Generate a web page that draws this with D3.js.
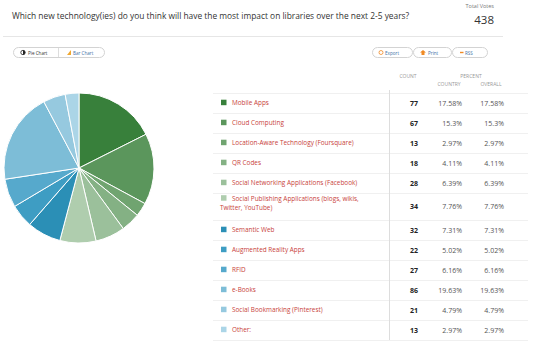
<!DOCTYPE html>
<html>
<head>
<meta charset="utf-8">
<script src="https://cdnjs.cloudflare.com/ajax/libs/d3/7.8.5/d3.min.js"></script>
<style>
  body { margin: 0; background: #fff; }
  svg { display: block; font-family: "Open Sans", sans-serif; }
</style>
</head>
<body>
<div id="chart"></div>
<script>
    var question = "Which new technology(ies) do you think will have the most impact on libraries over the next 2-5 years?";
    var totalVotes = 438;

    var answers = ["Mobile Apps", "Cloud Computing", "Location-Aware Technology (Foursquare)", "QR Codes",
        "Social Networking Applications (Facebook)", "Social Publishing Applications (blogs, wikis, Twitter, YouTube)",
        "Semantic Web", "Augmented Reality Apps", "RFID", "e-Books", "Social Bookmarking (Pinterest)", "Other:"];
    var counts = [77, 67, 13, 18, 28, 34, 32, 22, 27, 86, 21, 13];
    var pctCountry = ["17.58%", "15.3%", "2.97%", "4.11%", "6.39%", "7.76%", "7.31%", "5.02%", "6.16%", "19.63%", "4.79%", "2.97%"];
    var pctOverall = ["17.58%", "15.3%", "2.97%", "4.11%", "6.39%", "7.76%", "7.31%", "5.02%", "6.16%", "19.63%", "4.79%", "2.97%"];
    var sliceColors = ["#38803b", "#5b965c", "#70a470", "#84b184", "#9bc09b", "#afcdae",
        "#2b8fb6", "#3e9dc3", "#56a9cc", "#7dbdd7", "#96c9df", "#abd5e7"];

    var W = 550, H = 341;

    var svg = d3.select("#chart")
        .append("svg")
        .attr("width", W)
        .attr("height", H);

    //header
    svg.append("text")
        .text(question)
        .attr("x", 12)
        .attr("y", 18.5)
        .attr("font-size", 8.4)
        .attr("fill", "#333");

    svg.append("text")
        .text("Total Votes")
        .attr("x", 494)
        .attr("y", 8)
        .attr("text-anchor", "end")
        .attr("font-size", 5.5)
        .attr("fill", "#777");

    svg.append("text")
        .text(totalVotes)
        .attr("x", 494)
        .attr("y", 24)
        .attr("text-anchor", "end")
        .attr("font-size", 11.5)
        .attr("fill", "#333");

    svg.append("rect")
        .attr("x", 3).attr("y", 36)
        .attr("width", 500).attr("height", 1)
        .attr("fill", "#e6e6e6");

    //buttons
    function pill(x, w) {
        svg.append("rect")
            .attr("x", x + 0.5).attr("y", 47.5)
            .attr("width", w).attr("height", 10)
            .attr("rx", 5)
            .attr("fill", "#fff")
            .attr("stroke", "#d3d3d3");
    }
    function btnText(t, x) {
        svg.append("text")
            .text(t)
            .attr("x", x).attr("y", 54.5)
            .attr("font-size", 4.6)
            .attr("fill", "#3d6fa6");
    }

    pill(13, 91);
    svg.append("rect").attr("x", 58).attr("y", 48).attr("width", 1).attr("height", 9).attr("fill", "#ddd");
    svg.append("circle").attr("cx", 23).attr("cy", 52.5).attr("r", 2.2).attr("fill", "#fff").attr("stroke", "#222").attr("stroke-width", 0.8);
    svg.append("path").attr("d", "M23,50.3 A2.2,2.2 0 0,1 23,54.7 Z").attr("fill", "#222");
    svg.append("text").text("Pie Chart").attr("x", 28).attr("y", 54.5).attr("font-size", 4.6).attr("fill", "#333");
    svg.append("path").attr("d", "M67,55 L71,55 L71,50 Z").attr("fill", "#f0a830");
    btnText("Bar Chart", 73);

    pill(372, 40);
    svg.append("circle").attr("cx", 381).attr("cy", 52.5).attr("r", 2).attr("fill", "none").attr("stroke", "#f08a24").attr("stroke-width", 0.8);
    btnText("Export", 385);
    pill(413, 38);
    svg.append("path").attr("d", "M423,50 L426,52.5 L424.5,52.5 L424.5,55 L421.5,55 L421.5,52.5 L420,52.5 Z").attr("fill", "#f08a24");
    btnText("Print", 428);
    pill(452, 35);
    svg.append("rect").attr("x", 460).attr("y", 51.8).attr("width", 3.5).attr("height", 1.4).attr("fill", "#f08a24");
    btnText("RSS", 465);

    //pie
    var color = d3.scaleOrdinal().domain(answers).range(sliceColors);

    var pie = d3.pie().sort(null).value(function(d) { return d.count; });
    var arc = d3.arc().innerRadius(0).outerRadius(75);

    var rows = answers.map(function(a, i) {
        return { name: a, count: counts[i], country: pctCountry[i], overall: pctOverall[i] };
    });

    svg.append("g")
        .attr("transform", "translate(79,168)")
        .selectAll("path")
        .data(pie(rows))
        .enter()
        .append("path")
        .attr("d", arc)
        .attr("fill", function(d) { return color(d.data.name); })
        .attr("stroke", "#fff")
        .attr("stroke-width", 1);

    //table header
    function hText(t, x, y) {
        svg.append("text").text(t)
            .attr("x", x).attr("y", y)
            .attr("text-anchor", "middle")
            .attr("font-size", 5)
            .attr("fill", "#999");
    }
    hText("COUNT", 408, 78);
    hText("PERCENT", 471, 78);
    hText("COUNTRY", 449, 86);
    hText("OVERALL", 491, 86);

    var tableLeft = 213, tableRight = 528, divX = 389;

    //rows
    var y = 93;
    svg.append("rect").attr("x", tableLeft).attr("y", y).attr("width", tableRight - tableLeft).attr("height", 1).attr("fill", "#f0f0f0");

    rows.forEach(function(r) {
        var g = svg.append("g");
        var label = g.append("text")
            .attr("font-size", 6.4)
            .attr("fill", "#c8423a");

        //wrap long labels
        var words = r.name.split(" ");
        var lines = [];
        var line = [];
        var tspan = label.append("tspan").attr("x", 232);
        words.forEach(function(w) {
            line.push(w);
            tspan.text(line.join(" "));
            if (tspan.node().getComputedTextLength() > 135 && line.length > 1) {
                line.pop();
                tspan.text(line.join(" "));
                lines.push(line.join(" "));
                line = [w];
                tspan = label.append("tspan").attr("x", 220).text(w);
            }
        });
        lines.push(line.join(" "));

        var rowH = 20 + 7 * (lines.length - 1);
        var firstY = y + 10 - 4.5 * (lines.length - 1) + 2.2;
        label.selectAll("tspan")
            .attr("y", function(d, i) { return firstY + i * 9; });

        g.append("rect")
            .attr("x", 221).attr("y", firstY - 5.5)
            .attr("width", 5.5).attr("height", 5.5)
            .attr("fill", color(r.name));

        var midY = y + rowH / 2 + 2.5;
        g.append("text").text(r.count)
            .attr("x", 418).attr("y", midY)
            .attr("text-anchor", "end")
            .attr("font-size", 7).attr("font-weight", "bold")
            .attr("fill", "#222");
        g.append("text").text(r.country)
            .attr("x", 462).attr("y", midY)
            .attr("text-anchor", "end")
            .attr("font-size", 7)
            .attr("fill", "#555");
        g.append("text").text(r.overall)
            .attr("x", 504).attr("y", midY)
            .attr("text-anchor", "end")
            .attr("font-size", 7)
            .attr("fill", "#555");

        y += rowH;
        svg.append("rect").attr("x", tableLeft).attr("y", y).attr("width", tableRight - tableLeft).attr("height", 1).attr("fill", "#f0f0f0");
    });

    svg.append("rect")
        .attr("x", divX).attr("y", 90)
        .attr("width", 1).attr("height", y - 90)
        .attr("fill", "#ddd");
</script>
</body>
</html>
